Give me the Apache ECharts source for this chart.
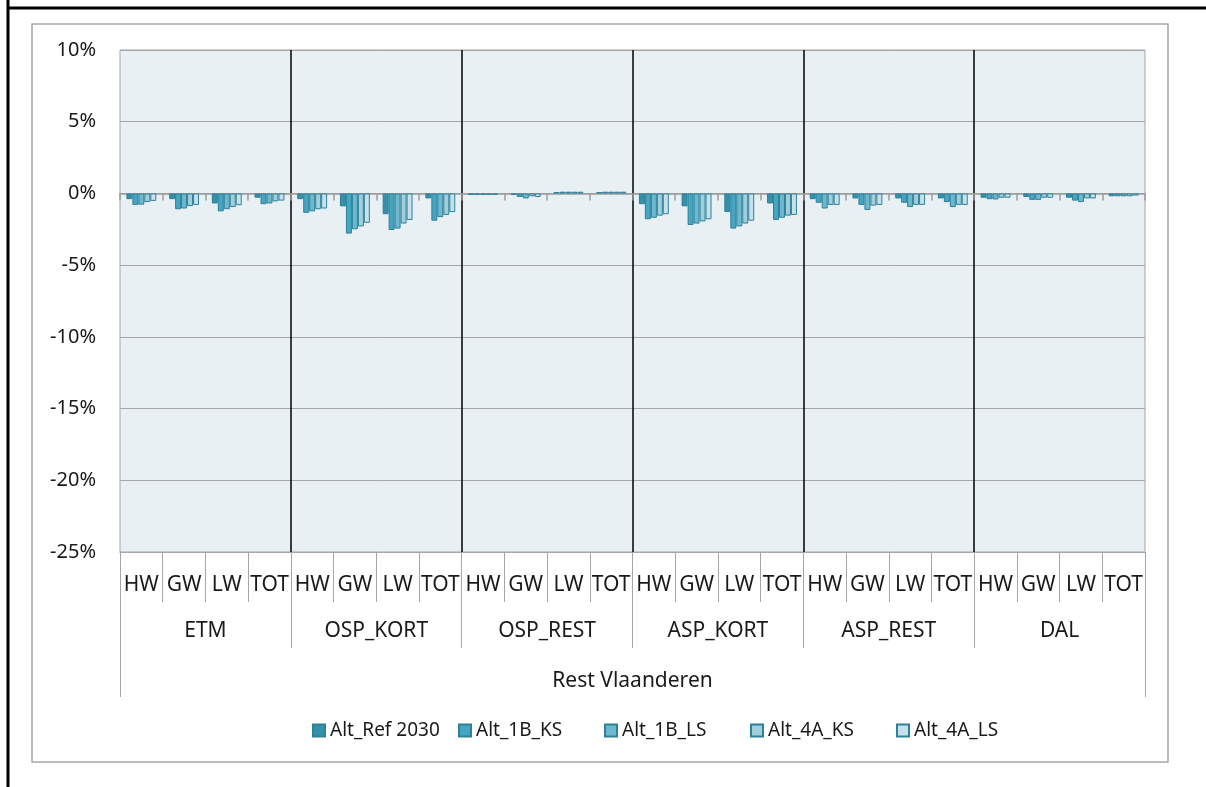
<!DOCTYPE html>
<html>
<head>
<meta charset="utf-8">
<script src="https://cdn.jsdelivr.net/npm/echarts@6/dist/echarts.min.js"></script>
<style>
  html, body { margin: 0; padding: 0; background: #ffffff; }
  #chart { width: 1206px; height: 787px; }
</style>
</head>
<body>
<div id="chart"></div>
<script>
// Sub-categories repeated inside each group, the groups, and the region label
const subCats = ['HW', 'GW', 'LW', 'TOT'];
const groups = ['ETM', 'OSP_KORT', 'OSP_REST', 'ASP_KORT', 'ASP_REST', 'DAL'];
const region = ['Rest Vlaanderen'];
const yTicks = { min: -25, max: 10, step: 5 };

// Percent change per sub-category, groups in the order above (HW, GW, LW, TOT each)
const altRef2030 = [
  -0.40, -0.40, -0.70, -0.30,
  -0.40, -0.90, -1.45, -0.35,
  -0.10, -0.10,  0.10,  0.10,
  -0.75, -0.90, -1.30, -0.70,
  -0.40, -0.35, -0.35, -0.35,
  -0.30, -0.25, -0.30, -0.20
];
const alt1B_KS = [
  -0.80, -1.10, -1.25, -0.75,
  -1.35, -2.80, -2.55, -1.90,
  -0.10, -0.25,  0.12,  0.12,
  -1.80, -2.20, -2.45, -1.85,
  -0.65, -0.80, -0.65, -0.60,
  -0.40, -0.45, -0.50, -0.20
];
const alt1B_LS = [
  -0.78, -1.05, -1.10, -0.70,
  -1.25, -2.50, -2.45, -1.65,
  -0.10, -0.35,  0.12,  0.12,
  -1.70, -2.10, -2.30, -1.70,
  -1.05, -1.15, -0.95, -0.95,
  -0.42, -0.45, -0.60, -0.20
];
const alt4A_KS = [
  -0.60, -0.88, -0.95, -0.55,
  -1.10, -2.30, -2.10, -1.50,
  -0.10, -0.20,  0.12,  0.12,
  -1.55, -1.95, -2.10, -1.55,
  -0.80, -0.85, -0.80, -0.80,
  -0.30, -0.30, -0.35, -0.20
];
const alt4A_LS = [
  -0.52, -0.80, -0.82, -0.50,
  -1.05, -2.05, -1.85, -1.30,
  -0.10, -0.25,  0.12,  0.12,
  -1.45, -1.80, -1.90, -1.50,
  -0.80, -0.80, -0.80, -0.80,
  -0.30, -0.30, -0.35, -0.15
];

const seriesNames = ['Alt_Ref 2030', 'Alt_1B_KS', 'Alt_1B_LS', 'Alt_4A_KS', 'Alt_4A_LS'];
const seriesData = [altRef2030, alt1B_KS, alt1B_LS, alt4A_KS, alt4A_LS];
const seriesColors = ['#3590aa', '#45a6c3', '#6cb8cf', '#a2cedc', '#c6e1ea'];

// Full category list: every group gets the four sub-categories
const allCats = [];
groups.forEach(() => subCats.forEach(s => allCats.push(s)));

const FONT = '"Noto Sans"';
const TEXT = '#1a1a1a';
const GREY = '#a6a6a6';

// Legend entries are laid out in equal-width slots
const LEGEND_LEFT = 307;
const LEGEND_SLOT = 146;

const chart = echarts.init(document.getElementById('chart'), null, { renderer: 'canvas' });

const option = {
  animation: false,
  backgroundColor: '#ffffff',
  textStyle: { fontFamily: FONT },
  grid: {
    left: 120, top: 50, width: 1025, height: 502,
    show: true, backgroundColor: '#e8f0f4', borderColor: GREY, borderWidth: 1
  },
  legend: seriesNames.map((name, i) => ({
    data: [name],
    left: LEGEND_LEFT + i * LEGEND_SLOT, top: 716,
    itemWidth: 12, itemHeight: 12,
    icon: 'rect',
    textStyle: { fontFamily: FONT, fontSize: 19, color: TEXT }
  })),
  xAxis: [
    { // sub-category labels
      type: 'category', data: allCats, position: 'bottom',
      axisLine: { onZero: false, lineStyle: { color: GREY } },
      axisTick: { show: true, interval: 0, length: 50, lineStyle: { color: GREY } },
      axisLabel: { interval: 0, margin: 23, fontSize: 21, color: TEXT, fontFamily: FONT },
      splitLine: { show: false }
    },
    { // group labels
      type: 'category', data: groups, position: 'bottom', offset: 50,
      axisLine: { show: false, onZero: false },
      axisTick: { show: true, interval: 0, length: 46, lineStyle: { color: GREY } },
      axisLabel: { interval: 0, margin: 19, fontSize: 21, color: TEXT, fontFamily: FONT },
      splitLine: { show: false }
    },
    { // region label
      type: 'category', data: region, position: 'bottom', offset: 96,
      axisLine: { show: false, onZero: false },
      axisTick: { show: true, interval: 0, length: 49, lineStyle: { color: GREY } },
      axisLabel: { interval: 0, margin: 23, fontSize: 21, color: TEXT, fontFamily: FONT },
      splitLine: { show: false }
    },
    { // axis line with cross ticks at zero
      type: 'category', data: allCats, position: 'bottom',
      axisLine: { show: true, onZero: true, lineStyle: { color: '#9a9a9a', width: 1.5 } },
      axisTick: { show: true, interval: 0, length: 7, lineStyle: { color: '#9a9a9a', width: 1.5 } },
      axisLabel: { show: false },
      splitLine: { show: false }
    },
    { // black separators between groups
      type: 'value', min: 0, max: allCats.length, interval: subCats.length, position: 'top',
      axisLine: { show: false, onZero: false },
      axisTick: { show: false },
      axisLabel: { show: false },
      splitLine: { show: true, showMinLine: false, showMaxLine: false, lineStyle: { color: '#000000', width: 1.5 } }
    }
  ],
  yAxis: {
    type: 'value', min: yTicks.min, max: yTicks.max, interval: yTicks.step,
    axisLine: { show: false, onZero: false },
    axisTick: { show: false },
    axisLabel: { formatter: '{value}%', fontSize: 20, color: TEXT, margin: 24, fontFamily: FONT },
    splitLine: { show: true, lineStyle: { color: GREY, width: 1 } }
  },
  series: seriesNames.map((name, i) => ({
    name: name,
    type: 'bar',
    xAxisIndex: 0, yAxisIndex: 0,
    data: seriesData[i],
    barGap: '0%',
    barCategoryGap: '30%',
    itemStyle: { color: seriesColors[i], borderColor: '#2f8099', borderWidth: 1 }
  })),
  graphic: [
    { type: 'rect', shape: { x: 32, y: 24, width: 1136, height: 738 },
      style: { fill: 'none', stroke: '#a6a6a6', lineWidth: 1.5 }, z: -1 },
    { type: 'line', shape: { x1: 8, y1: 0, x2: 8, y2: 787 },
      style: { stroke: '#000000', lineWidth: 3 } },
    { type: 'line', shape: { x1: 8, y1: 8, x2: 1206, y2: 8 },
      style: { stroke: '#000000', lineWidth: 3 } }
  ]
};

chart.setOption(option);
</script>
</body>
</html>
